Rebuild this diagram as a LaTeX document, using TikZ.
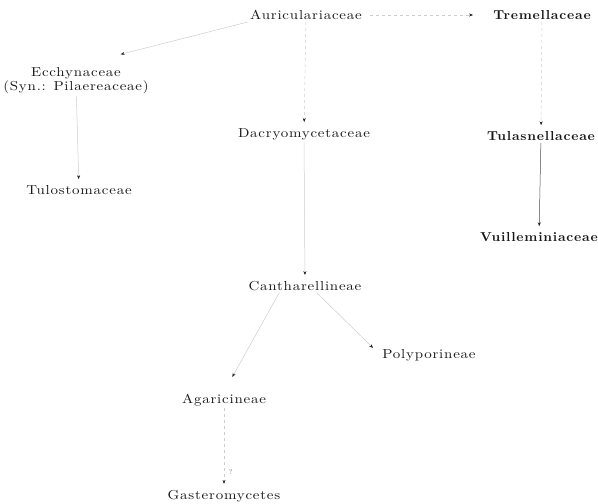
\documentclass[tikz,border=0pt]{standalone}
\usepackage{fontspec}
\usepackage{tikz}
\usetikzlibrary{arrows.meta}
\newfontfamily\taxfont{lmroman10}[Extension=.otf,UprightFont=*-regular,FakeStretch=1.15,LetterSpace=6]
\newfontfamily\btaxfont{lmroman10}[Extension=.otf,UprightFont=*-bold,FakeStretch=1.05,LetterSpace=6]

\begin{document}
\begin{tikzpicture}[
  x=1pt,y=-1pt,
  taxon/.style={inner sep=2pt,align=center,text=black!90,
    font=\fontsize{13}{14}\taxfont},
  btaxon/.style={taxon,font=\fontsize{13}{14}\btaxfont},
  link/.style={black!20,line width=0.5pt,-{Stealth[length=4pt,width=3pt,black!85]}},
  plink/.style={link,dashed}
]
  \useasboundingbox (0,0) rectangle (598,504);
  \node[taxon] (auri) at (306,15) {Auriculariaceae};
  \node[btaxon] (trem) at (542,15) {Tremellaceae};
  \node[taxon] (ecch) at (76,81) {Ecchynaceae\\(Syn.: Pilaereaceae)};
  \node[taxon] (dacr) at (304,134) {Dacryomycetaceae};
  \node[btaxon] (tula) at (541,136) {Tulasnellaceae};
  \node[taxon] (tulo) at (79,190) {Tulostomaceae};
  \node[btaxon] (vuil) at (539,237) {Vuilleminiaceae};
  \node[taxon] (cant) at (305,286) {Cantharellineae};
  \node[taxon] (poly) at (429,355) {Polyporineae};
  \node[taxon] (agar) at (224,400) {Agaricineae};
  \node[taxon] (gast) at (224,496) {Gasteromycetes};
  \draw[plink,shorten <=6pt,shorten >=18pt] (auri) -- (trem);
  \draw[plink,shorten >=4pt] (auri) -- (dacr);
  \draw[plink,shorten >=4pt] (trem) -- (tula);
  \draw[link,black!70,shorten >=4pt] (tula) -- (vuil);
  \draw[link,shorten >=46pt] (auri.south west) -- (ecch.north);
  \draw[link,shorten >=4pt] (ecch) -- (tulo);
  \draw[link,shorten >=4pt] (dacr) -- (cant);
  \draw[link,shorten >=10pt] (cant.-30) -- (poly.west);
  \draw[link,shorten >=17pt] (cant.-165) -- (agar.north);
  \draw[plink,shorten >=4pt] (agar) -- (gast) node[pos=0.8,right=1pt,font=\scriptsize,text=black!60] (q) {?};
\end{tikzpicture}
\end{document}
